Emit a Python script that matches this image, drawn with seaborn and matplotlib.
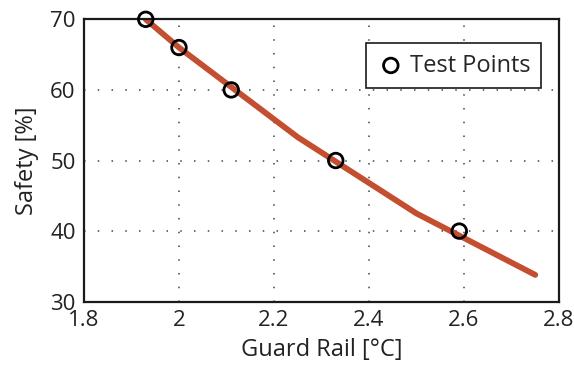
import matplotlib
matplotlib.use("Agg")
import matplotlib.pyplot as plt
import seaborn as sns
import pandas as pd

# Safety curve vs guard-rail temperature
curve_x = [1.93, 2.0, 2.25, 2.5, 2.75]
curve_y = [70.0, 66.0, 53.3, 42.5, 33.8]

# Measured test points
test_x = [1.93, 2.0, 2.11, 2.33, 2.59]
test_y = [70, 66, 60, 50, 40]

x_ticks = [1.8, 2.0, 2.2, 2.4, 2.6, 2.8]
x_tick_labels = ["1.8", "2", "2.2", "2.4", "2.6", "2.8"]
y_ticks = [30, 40, 50, 60, 70]

sns.set_theme(style="white")
plt.rcParams["font.family"] = ["Open Sans", "DejaVu Sans"]

curve = pd.DataFrame({"x": curve_x, "y": curve_y})
points = pd.DataFrame({"x": test_x, "y": test_y})

fig = plt.figure(figsize=(5.74, 3.67), dpi=100)
ax = fig.add_axes([0.1463, 0.1779, 0.9739 - 0.1463, 0.9474 - 0.1779])

sns.lineplot(data=curve, x="x", y="y", ax=ax, color="#C44E30", linewidth=4.2,
             zorder=2, legend=False)
sns.scatterplot(data=points, x="x", y="y", ax=ax, marker="o", s=110,
                facecolor="none", edgecolor="black", linewidth=2.0,
                zorder=3, label="Test Points", clip_on=False)

ax.set_xlim(1.8, 2.8)
ax.set_ylim(30, 70)
ax.set_xticks(x_ticks)
ax.set_xticklabels(x_tick_labels)
ax.set_yticks(y_ticks)

ax.grid(True, linestyle=(0, (1, 8)), color="#444444", linewidth=1.1)
ax.set_axisbelow(True)

for side in ["left", "bottom", "right", "top"]:
    ax.spines[side].set_visible(True)
    ax.spines[side].set_color("#1a1a1a")
    ax.spines[side].set_linewidth(1.6)

ax.tick_params(axis="both", length=0, labelsize=16, colors="#222222", pad=6)
ax.set_xlabel("Guard Rail [°C]", fontsize=17, color="#222222", labelpad=5)
ax.set_ylabel("Safety [%]", fontsize=17, color="#222222", labelpad=8)

leg = ax.legend(loc="upper right", bbox_to_anchor=(0.962, 0.916),
                borderaxespad=0.0, fontsize=17, frameon=True, fancybox=False,
                handletextpad=0.2, borderpad=0.45, handlelength=1.2)
leg.get_frame().set_edgecolor("#1a1a1a")
leg.get_frame().set_linewidth(1.2)
leg.get_frame().set_facecolor("white")
leg.get_frame().set_alpha(1.0)

fig.savefig("out.png", dpi=100)
